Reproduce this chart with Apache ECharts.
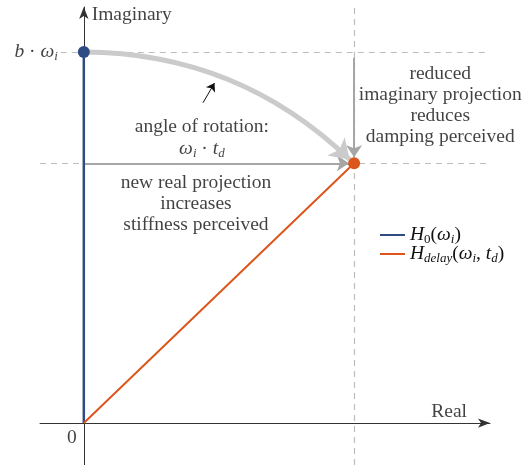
<!DOCTYPE html>
<html>
<head>
<meta charset="utf-8">
<script src="https://cdn.jsdelivr.net/npm/echarts@6/dist/echarts.min.js"></script>
<style>
  html, body { margin: 0; padding: 0; background: #fff; }
  #chart { width: 524px; height: 465px; }
</style>
</head>
<body>
<div id="chart"></div>
<script>
// values in units of b·ωi (magnitude of H0)
const h0Points = [[0, 0], [0, 1]];
const hDelayPoints = [[0, 0], [0.728, 0.70]];
const realProjection = 0.728;
const imagProjection = 0.70;
const xRange = [-0.118, 1.094];
const yRange = [-0.113, 1.121];

const SERIF = '"Liberation Serif", "DejaVu Serif", serif';
const BLUE = "#2f4b84";
const ORANGE = "#dc561b";
const DASH_GREY = "#bdbdbd";
const FS = 19.5;

const math = {
  t: { fontFamily: SERIF, fontSize: FS, color: "#111", lineHeight: 22 },
  i: { fontFamily: SERIF, fontSize: FS, fontStyle: "italic", color: "#111", lineHeight: 22 },
  s: { fontFamily: SERIF, fontSize: 13, fontStyle: "italic", color: "#111", lineHeight: 13, padding: [9, 0, 0, 0] },
  su: { fontFamily: SERIF, fontSize: 13, color: "#111", lineHeight: 13, padding: [9, 0, 0, 0] },
};

const textLabel = (formatter, extra = {}) => ({
  show: true,
  position: "inside",
  formatter,
  fontFamily: SERIF,
  fontSize: FS,
  color: "#111",
  lineHeight: 21,
  align: "center",
  rich: math,
  ...extra,
});

const annotations = [
  { value: [0.129, 1.100], label: textLabel("Imaginary") },
  { value: [-0.070, 1.0], label: textLabel("{i|b} {t|·} {i|ω}{s|i}", { position: "left", distance: 0, align: "right" }) },
  { value: [0.984, 0.030], label: textLabel("Real") },
  { value: [-0.032, -0.040], label: textLabel("0") },
  { value: [0.318, 0.768], label: textLabel("{t|angle of rotation:}\n{i|ω}{s|i}{t| · }{i|t}{s|d}") },
  { value: [0.302, 0.590], label: textLabel("new real projection\nincreases\nstiffness perceived") },
  { value: [0.960, 0.857], label: textLabel("reduced\nimaginary projection\nreduces\ndamping perceived") },
];

function arrowSeries(coords, color, width, size) {
  return {
    type: "lines",
    coordinateSystem: "cartesian2d",
    symbol: ["none", "arrow"],
    symbolSize: size,
    silent: true,
    lineStyle: { color, width, opacity: 1 },
    data: [{ coords }],
  };
}

const chart = echarts.init(document.getElementById("chart"), null, { renderer: "canvas" });

chart.setOption({
  animation: false,
  grid: { left: 40, right: 34, top: 7, bottom: 0 },
  legend: {
    orient: "vertical",
    left: 375,
    top: 219,
    itemWidth: 25,
    itemHeight: 2,
    itemGap: -3,
    icon: "rect",
    data: ["H0", "Hdelay"],
    formatter: (name) =>
      name === "H0" ? "{i|H}{su|0}{t|(}{i|ω}{s|i}{t|)}" : "{i|H}{s|delay}{t|(}{i|ω}{s|i}{t|, }{i|t}{s|d}{t|)}",
    textStyle: { fontFamily: SERIF, fontSize: FS, color: "#111", rich: math },
  },
  xAxis: {
    type: "value",
    min: xRange[0],
    max: xRange[1],
    axisLine: { onZero: true, symbol: ["none", "arrow"], symbolSize: [7, 12], lineStyle: { color: "#333", width: 1 } },
    axisTick: { show: false },
    axisLabel: { show: false },
    splitLine: { show: false },
  },
  yAxis: {
    type: "value",
    min: yRange[0],
    max: yRange[1],
    axisLine: { onZero: true, symbol: ["none", "arrow"], symbolSize: [7, 12], lineStyle: { color: "#333", width: 1 } },
    axisTick: { show: false },
    axisLabel: { show: false },
    splitLine: { show: false },
  },
  series: [
    {
      type: "lines",
      coordinateSystem: "cartesian2d",
      silent: true,
      lineStyle: { color: DASH_GREY, width: 1.2, type: [6, 5], opacity: 1 },
      data: [
        { coords: [[-0.062, 1], [xRange[1], 1]] },
        { coords: [[xRange[0], imagProjection], [xRange[1], imagProjection]] },
        { coords: [[realProjection, yRange[0]], [realProjection, yRange[1]]] },
      ],
    },
    arrowSeries([[0, imagProjection], [0.714, imagProjection]], "#a6a6a6", 2, [9, 12]),
    arrowSeries([[realProjection, 0.984], [realProjection, 0.716]], "#a6a6a6", 2, [9, 12]),
    {
      ...arrowSeries([[0, 1], [0.716, 0.710]], "#cbcbcb", 5, [15, 19]),
      lineStyle: { color: "#cbcbcb", width: 5, opacity: 1, curveness: 0.2 },
    },
    arrowSeries([[0.321, 0.863], [0.352, 0.916]], "#111", 1, [5, 8]),
    {
      name: "H0",
      type: "line",
      data: [{ value: h0Points[0], symbol: "none" }, h0Points[1]],
      symbol: "circle",
      symbolSize: 12,
      z: 5,
      lineStyle: { color: BLUE, width: 2.5 },
      itemStyle: { color: BLUE },
    },
    {
      name: "Hdelay",
      type: "line",
      data: [{ value: hDelayPoints[0], symbol: "none" }, hDelayPoints[1]],
      symbol: "circle",
      symbolSize: 12,
      z: 5,
      lineStyle: { color: ORANGE, width: 2 },
      itemStyle: { color: ORANGE },
    },
    {
      type: "scatter",
      symbolSize: 0,
      silent: true,
      clip: false,
      data: annotations,
    },
  ],
});
</script>
</body>
</html>
